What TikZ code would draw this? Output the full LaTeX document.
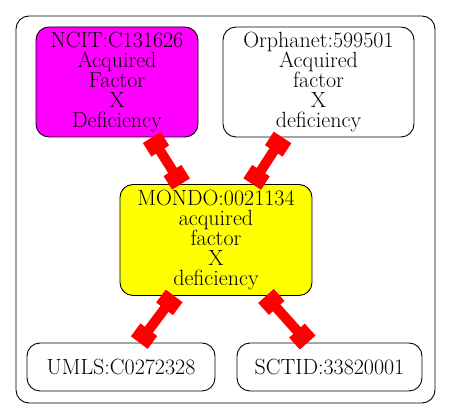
\documentclass[tikz,border=0pt]{standalone}
\usetikzlibrary{arrows.meta}
\definecolor{termmagenta}{RGB}{255,0,255}
\definecolor{termyellow}{RGB}{255,255,0}
\tikzset{
  term/.style={draw, rounded corners=13pt, line width=0.9pt, align=center,
    inner sep=0pt, font=\fontsize{22}{20}\selectfont},
  xref/.style={red, line width=10pt, {Square[length=16pt,width=21pt]}-{Square[length=16pt,width=21pt]}}
}
\begin{document}
\begin{tikzpicture}[x=1pt,y=-1pt]
\useasboundingbox (0,0) rectangle (451,419);
%cluster
\draw[rounded corners=13pt, line width=0.9pt] (16,16) rectangle (435,403);
%terms
\node[term, fill=termmagenta, minimum width=162pt, minimum height=110pt] (ncit) at (117,82)
  {NCIT:C131626\\Acquired\\Factor\\X\\Deficiency};
\node[term, minimum width=191pt, minimum height=110pt] (orpha) at (318.5,82)
  {Orphanet:599501\\Acquired\\factor\\X\\deficiency};
\node[term, fill=termyellow, minimum width=192pt, minimum height=111pt] (mondo) at (216,240)
  {MONDO:0021134\\acquired\\factor\\X\\deficiency};
\node[term, minimum width=188pt, minimum height=48pt] (umls) at (121,367) {UMLS:C0272328};
\node[term, minimum width=185pt, minimum height=48pt] (sctid) at (329.5,367) {SCTID:33820001};
%xrefs
\draw[xref] (ncit) -- (mondo);
\draw[xref] (orpha) -- (mondo);
\draw[xref] (mondo) -- (umls);
\draw[xref] (mondo) -- (sctid);
\end{tikzpicture}
\end{document}
